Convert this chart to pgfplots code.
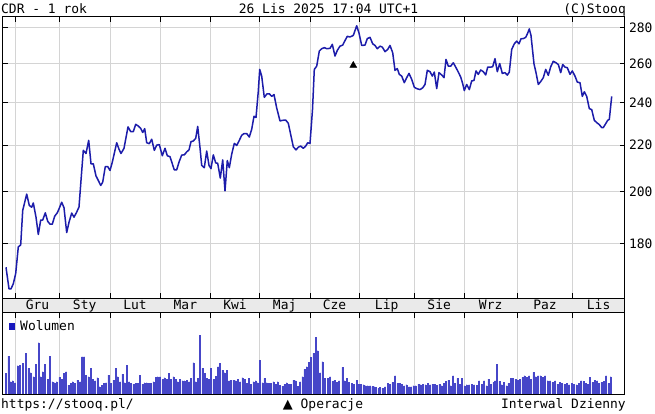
\documentclass[border=0pt]{standalone}
\usepackage{pgfplots}
\pgfplotsset{compat=1.18}
\usepackage{fontspec}
\setmainfont{DejaVu Sans Mono}
\newfontfamily\dvs{DejaVu Sans}
\definecolor{priceblue}{RGB}{28,28,170}
\definecolor{gridgray}{RGB}{212,212,212}
\definecolor{bandgray}{RGB}{234,234,234}
\definecolor{volfill}{RGB}{110,110,232}
\definecolor{voledge}{RGB}{70,70,200}
\definecolor{sqblue}{RGB}{25,25,190}
\pgfplotsset{
  stooq/.style={
    scale only axis, width=622bp, xmin=2.5, xmax=624.5,
    axis line style={black, line width=1bp},
    grid style={gridgray, line width=0.8bp},
    major tick length=5bp,
    tick style={black, line width=0.8bp},
    tick align=inside,
    tick label style={font=\fontsize{13}{15}\selectfont},
  }
}
\begin{document}
\begin{tikzpicture}[font=\fontsize{13}{15}\selectfont]
\path[use as bounding box, fill=white] (0bp,0bp) rectangle (655bp,414bp);
\begin{axis}[stooq,
  at={(2.5bp,101.5bp)}, anchor=south west, height=14bp,
  ymin=0, ymax=1, xtick=\empty, ytick=\empty,
  axis background/.style={fill=bandgray},
]
\node[anchor=base, inner sep=0pt] at (axis cs:37.5,0.19) {Gru};
\node[anchor=base, inner sep=0pt] at (axis cs:84.65,0.19) {Sty};
\node[anchor=base, inner sep=0pt] at (axis cs:135,0.19) {Lut};
\node[anchor=base, inner sep=0pt] at (axis cs:185.35,0.19) {Mar};
\node[anchor=base, inner sep=0pt] at (axis cs:235,0.19) {Kwi};
\node[anchor=base, inner sep=0pt] at (axis cs:284.65,0.19) {Maj};
\node[anchor=base, inner sep=0pt] at (axis cs:334.5,0.19) {Cze};
\node[anchor=base, inner sep=0pt] at (axis cs:386.65,0.19) {Lip};
\node[anchor=base, inner sep=0pt] at (axis cs:439.15,0.19) {Sie};
\node[anchor=base, inner sep=0pt] at (axis cs:490.65,0.19) {Wrz};
\node[anchor=base, inner sep=0pt] at (axis cs:545,0.19) {Paz};
\node[anchor=base, inner sep=0pt] at (axis cs:598.6,0.19) {Lis};
\end{axis}
\begin{axis}[stooq,
  at={(2.5bp,115.5bp)}, anchor=south west, height=281.5bp,
  ymode=log, ymin=160.8, ymax=286,
  xtick={15.7,59.3,110,160,210.7,259.3,310,359,414.3,464,517.3,572.7},
  xticklabels={},
  ytick={180,200,220,240,260,280},
  yticklabels={180,200,220,240,260,280},
  yticklabel pos=right,
  yticklabel style={xshift=1bp},
  xmajorgrids, ymajorgrids,
]
\addplot[priceblue, line width=1.5bp, line join=round] coordinates {
(6,171.4) (9,164.0) (11,164.0) (13.3,165.7) (15.7,169.2) (18.3,178.7) (20.7,179.4) (22.7,192.5) (26.7,199.1) (29.3,194.5) (31.7,193.8) (33.3,195.5) (36,189.9) (38.3,183.3) (40.7,188.8) (42.7,188.8) (45.3,191.6) (47.7,188.3) (50,187.2) (52.3,187.2) (54.7,190.3) (57.3,191.6) (59.3,193.4) (61.7,195.8) (64,193.6) (66.7,184.0) (69,187.9) (71.7,191.5) (74,189.9) (76.7,191.9) (79,193.9) (81,204.7) (83.3,217.7) (86,216.3) (88.7,222.2) (91,211.8) (93.3,211.8) (96,206.6) (98.3,204.7) (100.7,202.6) (102.7,204.0) (105.3,210.6) (107.7,210.6) (110,208.9) (112.3,212.5) (116.7,221.1) (119,218.2) (121,216.3) (124,218.6) (128,228.4) (130.7,226.2) (133.3,226.2) (135.7,229.6) (138.3,228.8) (140.7,227.7) (142.7,225.8) (144.7,227.6) (146.7,221.1) (149.3,220.7) (151.7,222.7) (154.3,217.7) (156.7,220.0) (159.3,220.3) (162.3,215.3) (165,218.6) (167.3,215.3) (170,214.9) (172.3,211.8) (174.3,209.2) (176.7,209.2) (179,212.5) (181.7,215.6) (184.3,215.7) (186.7,217.0) (189,217.9) (191,221.6) (193.3,221.9) (195.7,223.1) (197.7,228.6) (200,218.9) (201.7,211.1) (204.3,210.1) (206.7,217.4) (209,211.1) (211,209.7) (213.3,215.7) (215.7,212.2) (217.7,212.0) (220.3,205.7) (222.7,213.5) (225,200.4) (227.3,213.2) (229.3,210.1) (231.7,216.0) (234.3,220.8) (236.7,219.9) (239,221.9) (241.7,224.5) (244,225.3) (246.7,225.3) (249.3,223.7) (251.7,227.3) (254,233.4) (256,232.8) (258.3,245.7) (259.7,256.9) (261.7,253.4) (264.3,242.6) (267,244.4) (269.3,244.4) (271.7,243.1) (274,244.0) (276.7,237.4) (280,231.2) (282.7,231.5) (285.7,231.6) (288.3,230.1) (291,224.2) (293.3,219.3) (296,217.9) (298.3,219.1) (300.7,219.6) (303.3,218.6) (305.7,219.6) (307.7,221.1) (310,220.8) (312.5,236.6) (314.3,256.9) (316.7,258.6) (319.3,266.7) (321.7,268.0) (324.3,268.6) (326.7,268.0) (330,268.2) (332.3,270.4) (335,264.0) (337.3,267.1) (340,269.4) (342.7,270.0) (345,272.5) (347.3,274.9) (350,274.5) (353.3,275.4) (356.7,280.9) (359,276.7) (361.7,269.8) (365,270.0) (367.3,273.6) (370,274.3) (372.7,270.7) (375,269.8) (377.3,268.0) (380,269.4) (382.3,268.9) (385,266.4) (387.7,267.6) (390,269.8) (392.7,265.8) (395,256.4) (397.3,257.3) (399.3,254.3) (401.7,253.4) (404.3,250.0) (406.7,252.6) (409,254.8) (411.7,251.7) (414.3,247.7) (416.7,247.0) (420,246.5) (422.7,247.4) (425,249.1) (427.3,256.4) (430,255.7) (432.3,253.4) (434.3,255.5) (436.7,247.0) (439,255.2) (441.7,254.0) (444,252.6) (446,262.2) (448.3,258.6) (450.7,258.6) (453.3,260.4) (456,257.8) (458.3,255.5) (460.7,252.9) (462.7,249.5) (464.3,246.0) (466.7,249.1) (469.3,246.5) (471.7,250.9) (474,251.2) (476,256.1) (478.3,254.3) (480.7,256.6) (483.3,255.7) (485.7,254.0) (487.7,258.1) (490.7,258.1) (492.7,258.3) (495,262.6) (497.3,255.7) (499.7,260.0) (502.3,254.8) (505,255.2) (507.3,253.9) (509.3,255.5) (511.7,267.6) (514.3,270.7) (516.7,272.2) (519,270.7) (521,273.5) (523.3,273.6) (525.7,274.3) (527.7,276.7) (529.3,279.1) (531,275.3) (534,259.8) (536,255.2) (538.3,249.1) (541,250.8) (543.3,252.6) (545.7,256.9) (548.3,253.8) (550.7,258.3) (553.3,261.2) (556,260.4) (558.3,259.5) (560.7,255.2) (562.7,259.5) (565,258.1) (567.3,257.8) (570,254.3) (572.3,256.1) (575,253.4) (577.3,250.3) (580,250.0) (582.3,243.1) (584.3,245.4) (586.7,243.1) (589.3,237.1) (591.7,236.6) (594.3,231.5) (596.7,230.4) (599,229.6) (601.7,228.1) (603.3,228.1) (605.7,229.9) (607.7,231.5) (609.3,231.9) (611.7,243.1)
};
\addplot[only marks, mark=triangle*, mark size=4bp, black] coordinates {(353.3,259)};
\end{axis}
\begin{axis}[stooq,
  at={(2.5bp,20bp)}, anchor=south west, height=81.5bp,
  ymin=0, ymax=81.5, ytick=\empty,
  xtick={15.7,59.3,110,160,210.7,259.3,310,359,414.3,464,517.3,572.7},
  xticklabels={},
  xmajorgrids,
]
\addplot[ybar, bar width=1.0, fill=volfill, draw=voledge, line width=0.2bp] coordinates {
(5.7,20.7) (8.3,38) (10.7,12.3) (12.7,13.3) (15,11.3) (17.7,28.3) (20,28.7) (22.7,30.7) (26,40.7) (28.3,25.7) (30.7,21.3) (33.3,17.3) (36,29.7) (38.7,51.3) (40.7,17.3) (42.7,22.3) (45,29.7) (47.7,14.7) (50,38) (52.3,12.3) (54.3,11.3) (56.7,12.3) (59.3,16.7) (61.7,14.7) (64,20.7) (66,22.3) (68.3,9) (70.7,10.7) (72.7,12.3) (75,10.7) (77.3,14) (80,12.3) (82,37.3) (84,37.3) (86,19) (88.3,17.3) (90.7,25.7) (92.7,14.7) (95,13.3) (97.3,16.3) (99.3,7.3) (101.7,9) (104,10.7) (106,11.3) (108.3,19) (110.7,10.7) (113.3,14) (115.7,25.7) (117.7,17.3) (120,12.3) (122.3,20) (124.7,11.3) (126.7,29) (129,12.3) (131,10.7) (133.3,10) (135.3,10.7) (137.7,10.7) (140,19) (142.3,10) (144.3,11.3) (146.7,11.3) (149,10.7) (151,10.7) (153.3,12.3) (155.7,16.7) (157.7,17.3) (160,17.3) (162.3,14.7) (164.3,16.3) (166.7,15) (168.7,20.7) (171,14.7) (173.3,17.3) (175.7,14.7) (177.7,12.3) (180,14.7) (182.3,13.3) (184.3,13.3) (186.7,14) (189,12.3) (191,15.7) (193.3,31.3) (195.7,12.3) (197.7,15.7) (200,59) (202.3,25.7) (204.3,20.7) (206.7,15.7) (209,14.7) (211,25.7) (213.3,14.7) (215.7,18) (218,27.3) (220,30.7) (222.3,24) (224.3,21.3) (226.7,24) (229,13.3) (231,14) (233.3,14) (235.7,13.3) (237.7,14.7) (240,12.3) (242.3,16.3) (244.7,14.7) (246.7,10.7) (249,15.7) (251,9.7) (253.3,12.3) (255.7,13.3) (257.7,11.3) (260,34) (262.3,11.3) (264.3,15.7) (266.7,11.3) (269,10.7) (271,10.7) (273.3,12.3) (275.7,10) (277.7,12.3) (280,9) (282.3,8) (284.3,9.7) (286.7,11.3) (289,10) (291,10) (293.3,14) (295.7,13.3) (297.7,8) (300,12.3) (302.3,17.3) (304.3,24.7) (306.7,27.3) (309,31.7) (311,36.7) (313.3,40.7) (315.7,56.7) (317.7,43.3) (320,21.3) (322.3,32.3) (324.3,15.7)
(327.7,15.7) (330,17.3) (332.3,12.7) (334.3,14) (336.7,11.7) (339,13.3) (342.3,26.7) (344.3,13.3) (346.7,16) (349,11.7) (351.7,10.7) (354,10) (356.7,14) (359,10) (361,10) (363.3,9.3) (365.7,8.3) (367.7,8.3) (370,8.3) (372.2,7.5) (374.3,7.3) (376,6.7) (378.3,6) (380,6.7) (382.3,6) (385,7.3) (387.7,10.7) (390,10) (392.3,11.7) (395,18.3) (397.3,10.7) (399.7,10.7) (401.7,10) (404,8.3) (406.3,9.3) (409,7.3) (411,7.3) (413.3,8.3) (415.7,8.3) (418.3,10) (420.7,9.3) (423,10) (425.3,9.3) (427.7,10.7) (430,9.3) (432.3,10) (434.7,10) (437,9) (439.3,10) (441.7,8.3) (443.7,10.7) (446,12.7) (448.3,14) (450.7,8.3) (453,18.3) (455,10.7) (457.3,15.7) (459.7,10) (462,16) (464.3,8.3) (466.7,9.3) (469,9.3) (471.7,10) (474,9.3) (476.7,9) (479,13.3) (481.7,10) (484,13.3) (486.3,8.3) (488.3,15) (490.7,10) (493.3,11.7) (495,13.3) (497,30) (499.3,12.7) (501.7,9.3) (504,11.7) (506.3,8.3) (508.3,10.7) (510.7,15.7) (513,16) (515.3,15) (517.7,14) (520,15) (522.3,16.7) (524.3,18.3) (526.7,16.7) (529,18.3) (531,15) (533.3,21.7) (535.7,17.3) (538,18.3) (540.3,18.3) (542.7,16.7) (545,18.3) (547.7,13.3) (550,13.3) (552.3,11.7) (555,13.3) (557.3,10) (559.7,11.7) (562,10.7) (564.3,10) (566.7,10.7) (569,9.3) (571.7,10.7) (574,10) (576.3,9.3) (578.7,10.7) (581,13.3) (583.3,12.7) (585.7,10.7) (588,10) (590,16.7) (592.3,11.7) (594.7,14) (597,13.3) (599,10.7) (601.3,11.7) (603.7,12.7) (606,18.3) (608.3,10.7) (610.7,17.3)
};
\node[anchor=west, inner sep=0pt] at (rel axis cs:0.0105,0.84) {\textcolor{sqblue}{\rule{6bp}{7bp}}\hspace{5bp}Wolumen};
\end{axis}
\node[anchor=base west, inner sep=0pt] at (1bp,400bp) {CDR - 1 rok};
\node[anchor=base, inner sep=0pt] at (328.5bp,400bp) {26 Lis 2025 17:04 UTC+1};
\node[anchor=base east, inner sep=0pt] at (626bp,400bp) {(C)Stooq};
\node[anchor=base west, inner sep=0pt] at (1bp,6bp) {https://stooq.pl/};
\node[anchor=base, inner sep=0pt] at (323bp,6bp) {{\dvs ▲} Operacje};
\node[anchor=base east, inner sep=0pt] at (626bp,6bp) {Interwal Dzienny};
\end{tikzpicture}
\end{document}
